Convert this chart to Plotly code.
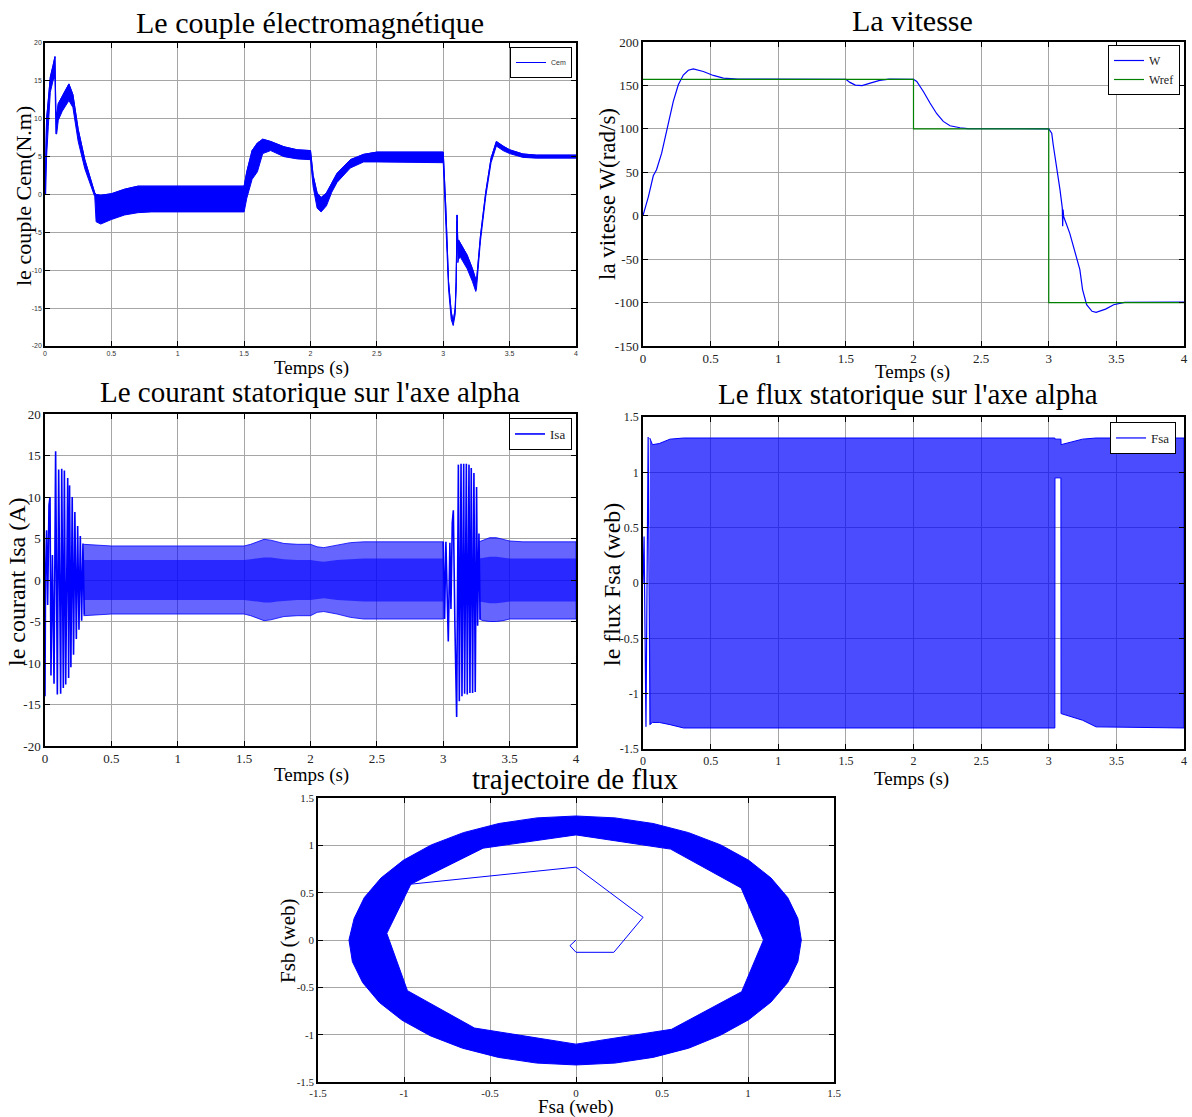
import plotly.graph_objects as go

# ---------------- DATA ----------------
# 1) Electromagnetic torque Cem: upper / lower envelope of the ripple band
cem_t = [0, 0.005, 0.012, 0.025, 0.04, 0.06, 0.075, 0.082, 0.088, 0.1, 0.13, 0.18, 0.21, 0.25,
         0.3, 0.35, 0.375, 0.385, 0.42, 0.5, 0.6, 0.7, 0.8, 1.5, 1.52, 1.56, 1.6, 1.64, 1.7, 1.8,
         1.9, 2.0, 2.02, 2.05, 2.08, 2.12, 2.16, 2.2, 2.3, 2.4, 2.5, 3.0, 3.02, 3.04, 3.06, 3.075,
         3.09, 3.097, 3.104, 3.11, 3.115, 3.13, 3.18, 3.22, 3.245, 3.25, 3.28, 3.32, 3.36, 3.4,
         3.45, 3.5, 3.6, 3.7, 4.0]
cem_hi = [0, 6, 10, 12.5, 15.5, 17, 18.2, 11, 10.5, 12, 13, 14.6, 13.2, 8.6,
          4.6, 1.6, 0.2, 0, -0.1, 0.1, 0.7, 1.1, 1.1, 1.1, 3.0, 5.8, 6.8, 7.3, 7.0, 6.3,
          5.9, 5.8, 2.5, 0.2, -0.4, 0.2, 1.5, 2.8, 4.6, 5.3, 5.6, 5.6, -2, -11.5, -15.5, -16.8,
          -15.0, -11.5, -2.7, -6.5, -6.0, -6.5, -8.0, -9.8, -11.2, -11.5, -5.5, 0.3, 4.8, 7.0,
          6.4, 5.9, 5.35, 5.2, 5.2]
cem_lo = [0, 0, 5, 9, 13.5, 15, 15.5, 8, 8, 9.8, 11, 12.4, 11.5, 7.0,
          3.4, 0.9, -0.3, -3.6, -3.9, -3.3, -2.7, -2.4, -2.3, -2.3, -0.5, 2.0, 3.0, 5.4, 5.8, 5.0,
          4.7, 4.6, 1.0, -1.8, -2.3, -1.5, 0.3, 1.6, 3.5, 4.3, 4.3, 4.2, -3, -12.5, -16.5, -17.3,
          -15.8, -12.5, -3.5, -9.0, -8.5, -8.3, -9.8, -11.5, -12.8, -12.5, -6.2, -0.3, 4.2, 6.4,
          5.8, 5.4, 4.9, 4.8, 4.8]

# 2) Speed W and reference Wref (rad/s)
w_t = [0, 0.04, 0.076, 0.08, 0.1, 0.138, 0.187, 0.224, 0.261, 0.298, 0.335, 0.372, 0.446, 0.52,
       0.594, 0.7, 1.5, 1.53, 1.57, 1.62, 1.68, 1.75, 1.82, 1.9, 2.0, 2.024, 2.073, 2.122, 2.172,
       2.22, 2.27, 2.344, 2.4, 3.0, 3.022, 3.033, 3.058, 3.083, 3.1, 3.103, 3.106, 3.11, 3.155,
       3.19, 3.23, 3.25, 3.28, 3.32, 3.35, 3.42, 3.48, 3.56, 3.9, 4.0]
w_v = [0, 22, 46, 47, 53, 72, 105, 131.6, 150.8, 162, 167.5, 169, 166, 161.5,
       158.5, 157.2, 157, 153.5, 150.4, 149.7, 152.7, 155.8, 157.2, 157, 157, 154.6, 143, 129.7, 117.4,
       108.6, 103.6, 101.3, 100.3, 100, 95, 81.7, 56.8, 30, 9, -12, 7, -1, -20,
       -39, -62, -85, -102.5, -110, -111.3, -107.5, -102.5, -99.8, -99.3, -99.5]
wref_t = [0, 2, 2, 3, 3, 4]
wref_v = [157, 157, 100, 100, -100, -100]

# 3) Stator current Isa (A)
isa_start_t = [0.0, 0.004, 0.012, 0.02, 0.03, 0.038, 0.045, 0.056, 0.068, 0.080, 0.093, 0.103, 0.118,
               0.126, 0.138, 0.146, 0.156, 0.171, 0.178, 0.185, 0.195, 0.205, 0.215, 0.225, 0.236,
               0.246, 0.256, 0.266, 0.276, 0.286, 0.296]
isa_start_v = [-14, 0.5, 6, -3, 9, 10, -11.5, 3, -12.5, 15.5, -13.8, 13.3, -13.7,
               13.4, -13.0, 13.2, -12.6, 12.3, -11.8, 11.4, -10.5, 10.0, -9.0, 8.2, -7.1,
               6.5, -6.0, 5.3, -4.9, 4.4, -4.2]
isa_a_t = [0.29, 0.5, 1.0, 1.5, 1.55, 1.6, 1.65, 1.7, 1.75, 1.8, 1.9, 2.0, 2.05, 2.1, 2.2, 2.3,
           2.4, 2.6, 2.8, 3.0]
isa_a_hi = [4.3, 4.1, 4.1, 4.1, 4.3, 4.6, 4.9, 4.8, 4.6, 4.4, 4.3, 4.3, 4.0, 3.9, 4.2, 4.5,
            4.6, 4.6, 4.6, 4.6]
isa_a_lo = [-4.3, -4.1, -4.1, -4.1, -4.3, -4.6, -4.9, -4.8, -4.6, -4.4, -4.3, -4.3, -3.9, -3.8,
            -4.1, -4.5, -4.7, -4.7, -4.7, -4.7]
isa_a_core = [2.4, 2.4, 2.4, 2.4, 2.5, 2.6, 2.7, 2.7, 2.6, 2.5, 2.4, 2.4, 2.3, 2.2, 2.4, 2.5,
              2.6, 2.6, 2.6, 2.6]
isa_mid_t = [3.0, 3.010, 3.020, 3.030, 3.038, 3.050, 3.058, 3.068, 3.076, 3.088, 3.101, 3.114,
             3.121, 3.134, 3.141, 3.154, 3.161, 3.174, 3.181, 3.194, 3.201, 3.211, 3.221, 3.231,
             3.241, 3.251, 3.259, 3.269, 3.278]
isa_mid_v = [4.6, -4.7, 4.6, -4.7, -7.4, 4.5, -3.5, 6.9, 8.4, -5.6, -16.5, 13.9,
             -14.6, 14.0, -14.0, 14.0, -13.7, 14.0, -13.8, 13.9, -13.6, 13.5, -13.6, 12.9,
             -13.5, 11.2, -5.5, 5.6, -4.7]
isa_b_t = [3.27, 3.3, 3.35, 3.4, 3.45, 3.5, 3.6, 3.8, 4.0]
isa_b_hi = [4.6, 4.8, 5.1, 5.1, 4.9, 4.7, 4.6, 4.6, 4.6]
isa_b_lo = [-4.7, -4.9, -5.0, -5.0, -4.9, -4.7, -4.7, -4.7, -4.7]
isa_b_core = [2.6, 2.7, 2.8, 2.8, 2.7, 2.6, 2.6, 2.6, 2.6]

# 4) Stator flux Fsa (Wb)
fsa_start_t = [0.0, 0.008, 0.022, 0.038, 0.052]
fsa_start_v = [0.0, 0.42, -1.30, 1.32, -1.28]
fsa_t = [0.05, 0.07, 0.12, 0.2, 0.3, 3.045, 3.046, 3.09, 3.091, 3.15, 3.25, 3.35, 4.0]
fsa_hi = [1.31, 1.25, 1.26, 1.30, 1.31, 1.31, 1.30, 1.30, 1.25, 1.27, 1.30, 1.31, 1.31]
fsa_lo = [-1.28, -1.26, -1.26, -1.28, -1.31, -1.31, 0.95, 0.95, -1.18, -1.20, -1.24, -1.30, -1.31]

# 5) Flux trajectory (Fsa, Fsb): outer edge of the ring, inner 12-gon edge, start-up path
ring_out_x = [1.31, 1.29, 1.231, 1.134, 1.004, 0.842, 0.655, 0.448, 0.227,
              0.0, -0.227, -0.448, -0.655, -0.842, -1.004, -1.134, -1.231, -1.29,
              -1.32, -1.30, -1.24, -1.143, -1.011, -0.848, -0.66, -0.451, -0.229,
              0.0, 0.227, 0.448, 0.655, 0.842, 1.004, 1.134, 1.231, 1.29]
ring_out_y = [0.0, 0.227, 0.448, 0.655, 0.842, 1.004, 1.134, 1.231, 1.29,
              1.31, 1.29, 1.231, 1.134, 1.004, 0.842, 0.655, 0.448, 0.227,
              0.0, -0.229, -0.451, -0.66, -0.848, -1.011, -1.143, -1.24, -1.30,
              -1.32, -1.30, -1.24, -1.143, -1.004, -0.842, -0.655, -0.448, -0.227]
ring_in_x = [1.09, 0.96, 0.55, 0.0, -0.54, -0.96, -1.10, -0.98, -0.59, 0.0, 0.556, 0.963]
ring_in_y = [0.0, 0.55, 0.96, 1.11, 0.97, 0.59, 0.07, -0.535, -0.93, -1.10, -0.943, -0.546]
traj_x = [0.0, -0.035, 0.0, 0.22, 0.39, 0.0, -0.96]
traj_y = [0.0, -0.06, -0.13, -0.13, 0.24, 0.77, 0.59]

# tick labels
t_ticks = [0, 0.5, 1, 1.5, 2, 2.5, 3, 3.5, 4]
t_labels = ["0", "0.5", "1", "1.5", "2", "2.5", "3", "3.5", "4"]
cem_ticks = [-20, -15, -10, -5, 0, 5, 10, 15, 20]
cem_labels = ["-20", "-15", "-10", "-5", "0", "5", "10", "15", "20"]
w_ticks = [-150, -100, -50, 0, 50, 100, 150, 200]
w_labels = ["-150", "-100", "-50", "0", "50", "100", "150", "200"]
isa_ticks = cem_ticks
isa_labels = cem_labels
f_ticks = [-1.5, -1, -0.5, 0, 0.5, 1, 1.5]
f_labels = ["-1.5", "-1", "-0.5", "0", "0.5", "1", "1.5"]

# ---------------- FIGURE ----------------
W, H = 1192, 1117
def px(x): return x / W
def py(y): return 1 - y / H

BLUE = "#0000FF"
GREEN = "#008000"
SERIF = "Liberation Serif"
SANS = "Liberation Sans"

fig = go.Figure()

def band(t, hi, lo, xa, ya, fillcolor, lw=1.0):
    fig.add_trace(go.Scatter(x=list(t) + list(t)[::-1], y=list(hi) + list(lo)[::-1],
                             mode="lines", fill="toself", fillcolor=fillcolor,
                             line=dict(color=BLUE, width=lw), showlegend=False,
                             hoverinfo="skip", xaxis=xa, yaxis=ya))

# plot 1
band(cem_t, cem_hi, cem_lo, "x", "y", BLUE)
fig.add_trace(go.Scatter(x=cem_t, y=cem_hi, mode="lines", line=dict(color=BLUE, width=1),
                         name="Cem", legend="legend", xaxis="x", yaxis="y"))

# plot 2
fig.add_trace(go.Scatter(x=w_t, y=w_v, mode="lines", line=dict(color=BLUE, width=1.2),
                         name="W", legend="legend2", xaxis="x2", yaxis="y2"))
fig.add_trace(go.Scatter(x=wref_t, y=wref_v, mode="lines", line=dict(color=GREEN, width=1.2),
                         name="Wref", legend="legend2", xaxis="x2", yaxis="y2"))

# plot 3
band(isa_a_t, isa_a_hi, isa_a_lo, "x3", "y3", "rgba(0,0,255,0.6)", 0.8)
band(isa_a_t, isa_a_core, [-v for v in isa_a_core], "x3", "y3", "rgba(0,0,255,0.6)", 0)
band(isa_b_t, isa_b_hi, isa_b_lo, "x3", "y3", "rgba(0,0,255,0.6)", 0.8)
band(isa_b_t, isa_b_core, [-v for v in isa_b_core], "x3", "y3", "rgba(0,0,255,0.6)", 0)
fig.add_trace(go.Scatter(x=isa_start_t, y=isa_start_v, mode="lines", line=dict(color=BLUE, width=1.6),
                         showlegend=False, xaxis="x3", yaxis="y3"))
fig.add_trace(go.Scatter(x=isa_mid_t, y=isa_mid_v, mode="lines", line=dict(color=BLUE, width=1.6),
                         name="Isa", legend="legend3", xaxis="x3", yaxis="y3"))

# plot 4
band(fsa_t, fsa_hi, fsa_lo, "x4", "y4", "rgba(0,0,255,0.7)", 1.0)
fig.add_trace(go.Scatter(x=fsa_start_t, y=fsa_start_v, mode="lines", line=dict(color=BLUE, width=1.2),
                         name="Fsa", legend="legend4", xaxis="x4", yaxis="y4"))

# plot 5 : ring with a hole (outer CCW, inner reversed)
rx = ring_out_x + [ring_out_x[0], None] + ring_in_x[::-1] + [ring_in_x[-1]]
ry = ring_out_y + [ring_out_y[0], None] + ring_in_y[::-1] + [ring_in_y[-1]]
fig.add_trace(go.Scatter(x=rx, y=ry, mode="lines", fill="toself", fillcolor=BLUE,
                         line=dict(color=BLUE, width=1), showlegend=False, hoverinfo="skip",
                         xaxis="x5", yaxis="y5"))
fig.add_trace(go.Scatter(x=traj_x, y=traj_y, mode="lines", line=dict(color=BLUE, width=1),
                         showlegend=False, xaxis="x5", yaxis="y5"))

def axis(domain, rng, tv, tt, anchor, font):
    return dict(domain=domain, range=rng, tickvals=tv, ticktext=tt, anchor=anchor,
                showline=True, linecolor="black", linewidth=1.5, mirror="ticks",
                ticks="inside", ticklen=5, tickcolor="black", showgrid=True,
                gridcolor="#a6a6a6", gridwidth=1, zeroline=False, tickfont=font,
                fixedrange=True, automargin=False)

small = dict(family=SANS, size=7, color="#333333")
serif13 = dict(family=SERIF, size=13, color="#222222")
serif12 = dict(family=SERIF, size=12, color="#222222")
serif11 = dict(family=SERIF, size=11, color="#222222")

d1x = [px(45), px(576)];  d1y = [py(346), py(43)]
d2x = [px(643), px(1184)]; d2y = [py(346), py(42)]
d3x = [px(45), px(576)];  d3y = [py(746), py(414)]
d4x = [px(643), px(1184)]; d4y = [py(749), py(417)]
d5x = [px(318), px(834)]; d5y = [py(1082), py(798)]

layout = dict(
    width=W, height=H, margin=dict(l=0, r=0, t=0, b=0, pad=0, autoexpand=False),
    paper_bgcolor="white", plot_bgcolor="white",
    xaxis=axis(d1x, [0, 4], t_ticks, t_labels, "y", small),
    yaxis=axis(d1y, [-20, 20], cem_ticks, cem_labels, "x", small),
    xaxis2=axis(d2x, [0, 4], t_ticks, t_labels, "y2", serif13),
    yaxis2=axis(d2y, [-150, 200], w_ticks, w_labels, "x2", serif13),
    xaxis3=axis(d3x, [0, 4], t_ticks, t_labels, "y3", serif13),
    yaxis3=axis(d3y, [-20, 20], isa_ticks, isa_labels, "x3", serif13),
    xaxis4=axis(d4x, [0, 4], t_ticks, t_labels, "y4", serif12),
    yaxis4=axis(d4y, [-1.5, 1.5], f_ticks, f_labels, "x4", serif12),
    xaxis5=axis(d5x, [-1.5, 1.5], f_ticks, f_labels, "y5", serif11),
    yaxis5=axis(d5y, [-1.5, 1.5], f_ticks, f_labels, "x5", serif11),
    showlegend=True,
)

def leg(x, y, font):
    return dict(x=px(x), y=py(y), xanchor="right", yanchor="top", xref="paper", yref="paper",
                bgcolor="white", bordercolor="black", borderwidth=1, font=font,
                tracegroupgap=0, itemwidth=30)

layout["legend"] = leg(572, 47, small)
layout["legend2"] = leg(1180, 45, serif12)
layout["legend3"] = leg(572, 418, serif13)
layout["legend4"] = leg(1176, 422, serif13)

fig.update_layout(**layout)

def ann(text, x, y, size, angle=0):
    fig.add_annotation(text=text, x=px(x), y=py(y), xref="paper", yref="paper",
                       showarrow=False, textangle=angle, xanchor="center", yanchor="middle",
                       font=dict(family=SERIF, size=size, color="black"))

ann("Le couple électromagnétique", 310, 22, 30)
ann("La vitesse", 912, 20, 30)
ann("Le courant statorique sur l'axe alpha", 310, 392, 29)
ann("Le flux statorique sur l'axe alpha", 908, 394, 29)
ann("trajectoire de flux", 575, 779, 29)

ann("Temps (s)", 311, 368, 19)
ann("Temps (s)", 912, 372, 19)
ann("Temps (s)", 311, 775, 19)
ann("Temps (s)", 911, 779, 19)
ann("Fsa (web)", 575, 1107, 19)

ann("le couple Cem(N.m)", 23, 196, 22, -90)
ann("la vitesse W(rad/s)", 607, 194, 23, -90)
ann("le courant Isa (A)", 17, 582, 24, -90)
ann("le flux Fsa (web)", 612, 585, 24, -90)
ann("Fsb (web)", 288, 941, 21, -90)

fig.write_html(
    "out.html",
    config={"displayModeBar": False},
    post_script="document.body.style.margin='0';document.body.style.padding='0';"
                "document.body.style.overflow='hidden';",
)
